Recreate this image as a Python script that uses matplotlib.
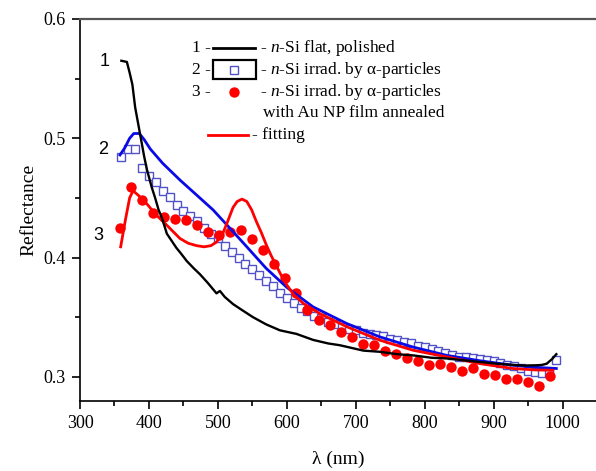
import matplotlib
matplotlib.use("Agg")
import matplotlib.pyplot as plt
from matplotlib.lines import Line2D
from matplotlib.patches import Rectangle

plt.rcParams['font.family'] = ['Liberation Serif', 'DejaVu Serif']
plt.rcParams['mathtext.fontset'] = 'custom'
plt.rcParams['mathtext.rm'] = 'Liberation Serif'
plt.rcParams['mathtext.it'] = 'Liberation Serif:italic'

# ---- Data ----
# Curve 1: n-Si flat, polished (black line)
wl_flat = [360, 368, 372, 376, 380, 387, 393, 397, 404, 409, 414, 419, 426, 433, 440,
           447, 455, 465, 474, 485, 498, 503, 510, 522, 535, 551, 570, 590, 614, 638,
           660, 677, 711, 735, 760, 783, 810, 832, 855, 880, 905, 928, 945, 962, 970,
           977, 985, 991]
r_flat = [0.565, 0.564, 0.555, 0.545, 0.526, 0.504, 0.485, 0.474, 0.459, 0.450, 0.440,
          0.433, 0.420, 0.414, 0.408, 0.403, 0.397, 0.391, 0.386, 0.379, 0.370, 0.372,
          0.367, 0.361, 0.356, 0.350, 0.344, 0.339, 0.336, 0.331, 0.328, 0.3265, 0.322,
          0.321, 0.319, 0.318, 0.316, 0.3154, 0.314, 0.3125, 0.311, 0.310, 0.3095,
          0.3097, 0.310, 0.311, 0.315, 0.319]

# Curve 2: n-Si irradiated by alpha-particles (open squares)
wl_irr = [360, 370, 380, 390, 400, 410, 420, 430, 440, 450, 460, 470, 480, 490, 500,
          510, 520, 530, 540, 550, 560, 570, 580, 590, 600, 610, 620, 630, 640, 650,
          660, 670, 680, 690, 700, 710, 720, 730, 740, 750, 760, 770, 780, 790, 800,
          810, 820, 830, 840, 850, 860, 870, 880, 890, 900, 910, 920, 930, 940, 950,
          960, 970, 980, 990]
r_irr = [0.484, 0.491, 0.491, 0.475, 0.468, 0.463, 0.456, 0.4505, 0.444, 0.439, 0.435,
         0.431, 0.425, 0.420, 0.416, 0.410, 0.405, 0.400, 0.395, 0.390, 0.385, 0.380,
         0.376, 0.370, 0.366, 0.362, 0.358, 0.355, 0.351, 0.349, 0.346, 0.344, 0.342,
         0.340, 0.339, 0.337, 0.336, 0.335, 0.334, 0.332, 0.331, 0.329, 0.328, 0.326,
         0.325, 0.323, 0.322, 0.320, 0.318, 0.317, 0.317, 0.316, 0.315, 0.314, 0.313,
         0.312, 0.310, 0.309, 0.307, 0.305, 0.304, 0.303, 0.303, 0.314]

# Fitting of curve 2 (blue line)
wl_fit2 = [358, 365, 372, 378, 386, 393, 402, 420, 445, 470, 493, 520, 542, 570, 600,
           638, 687, 735, 783, 832, 880, 928, 960, 991]
r_fit2 = [0.486, 0.492, 0.500, 0.504, 0.504, 0.499, 0.491, 0.479, 0.465, 0.452, 0.440,
          0.423, 0.409, 0.391, 0.375, 0.3587, 0.3447, 0.3335, 0.325, 0.318, 0.3135,
          0.3097, 0.308, 0.307]

# Curve 3: n-Si irradiated with Au NP film annealed (red dots)
wl_au = [358, 374, 390, 406, 422, 438, 454, 470, 486, 502, 518, 534, 550, 566, 582,
         598, 614, 630, 646, 662, 678, 694, 710, 726, 742, 758, 774, 790, 806, 822,
         838, 854, 870, 886, 902, 918, 934, 950, 966, 982]
r_au = [0.4248, 0.4588, 0.4482, 0.4375, 0.4340, 0.4321, 0.4317, 0.4276, 0.4216, 0.4188,
        0.4216, 0.4230, 0.4152, 0.4062, 0.3948, 0.3830, 0.3704, 0.3559, 0.3480, 0.3433,
        0.3377, 0.3335, 0.3279, 0.3265, 0.3217, 0.3190, 0.3154, 0.3134, 0.3103, 0.3111,
        0.3083, 0.3047, 0.3070, 0.3020, 0.3013, 0.2986, 0.2983, 0.2957, 0.2922, 0.3003]

# Fitting of curve 3 (red line)
wl_fit3 = [359, 366, 372, 377, 385, 397, 410, 421, 433, 445, 457, 469, 480, 490, 498,
           507, 514, 522, 528, 535, 542, 549, 556, 563, 570, 577, 584, 592, 600, 610,
           624, 648, 687, 735, 783, 832, 880, 928, 960, 986]
r_fit3 = [0.409, 0.432, 0.450, 0.456, 0.452, 0.445, 0.436, 0.430, 0.423, 0.416, 0.412,
          0.410, 0.409, 0.410, 0.413, 0.420, 0.430, 0.442, 0.447, 0.449, 0.447, 0.440,
          0.430, 0.421, 0.411, 0.402, 0.394, 0.385, 0.377, 0.369, 0.3615, 0.353, 0.342,
          0.3307, 0.3223, 0.3167, 0.3111, 0.307, 0.3058, 0.3055]

legend_labels = [r"- $n$-Si flat, polished",
                 r"- $n$-Si irrad. by α-particles",
                 r"- $n$-Si irrad. by α-particles",
                 "with Au NP film annealed",
                 "- fitting"]

SQ_COLOR = '#5252c8'
RED = '#ff0000'
BLUE = '#0a0ae6'

fig = plt.figure(figsize=(5.96, 4.71), dpi=100)
ax = fig.add_axes([80 / 596, (471 - 400.7) / 471, 517 / 596, 381.7 / 471])

ax.plot(wl_irr, r_irr, ls='none', marker='s', ms=6, mfc='white', mec=SQ_COLOR,
        mew=1.0, zorder=2)
ax.plot(wl_au, r_au, ls='none', marker='o', ms=7.5, mfc=RED, mec=RED, mew=0, zorder=3)
ax.plot(wl_fit2, r_fit2, color=BLUE, lw=2.0, zorder=4)
ax.plot(wl_fit3, r_fit3, color=RED, lw=2.0, zorder=5)
ax.plot(wl_flat, r_flat, color='black', lw=1.7, zorder=6)

ax.set_xlim(300, 1050)
ax.set_ylim(0.28, 0.6)
ax.set_xticks([300, 400, 500, 600, 700, 800, 900, 1000])
ax.set_xticks(range(350, 1050, 100), minor=True)
ax.set_yticks([0.3, 0.4, 0.5, 0.6])
ax.set_yticklabels(['0.3', '0.4', '0.5', '0.6'])
ax.set_yticks([0.35, 0.45, 0.55], minor=True)
ax.tick_params(which='both', direction='out', width=1.2, labelsize=13,
               top=False, right=False)
ax.tick_params(which='major', length=6, pad=4)
ax.tick_params(which='minor', length=3.5)
ax.spines['right'].set_visible(False)
ax.spines['top'].set_color('#555555')
ax.spines['top'].set_linewidth(1.6)
for s in ('left', 'bottom'):
    ax.spines[s].set_linewidth(1.2)

ax.set_xlabel("λ (nm)", fontsize=14, labelpad=14)
ax.set_ylabel("Reflectance", fontsize=14, labelpad=5)

# curve number labels
sans = ['Liberation Sans', 'DejaVu Sans']
ax.text(336, 0.5642, "1", family=sans, fontsize=13, ha='center', va='center')
ax.text(333.6, 0.4906, "2", family=sans, fontsize=13, ha='center', va='center')
ax.text(326.5, 0.4188, "3", family=sans, fontsize=13, ha='center', va='center')

# custom legend
T = ax.transAxes
fs = 12.5
ax.text(0.216, 0.923, "1 -", transform=T, fontsize=fs, va='center', ha='left')
ax.add_line(Line2D([0.258, 0.3385], [0.923, 0.923], transform=T, color='black', lw=2))
ax.text(0.348, 0.923, legend_labels[0], transform=T, fontsize=fs, va='center', ha='left')

ax.text(0.216, 0.8664, "2 -", transform=T, fontsize=fs, va='center', ha='left')
ax.add_patch(Rectangle((0.2567, 0.8428), 0.3404 - 0.2567, 0.8926 - 0.8428, transform=T,
                       fill=False, ec='black', lw=1.6))
ax.add_line(Line2D([0.2985], [0.8664], transform=T, ls='none', marker='s', ms=6,
                   mfc='white', mec=SQ_COLOR, mew=1.0))
ax.text(0.348, 0.8664, legend_labels[1], transform=T, fontsize=fs, va='center', ha='left')

ax.text(0.216, 0.8095, "3 -", transform=T, fontsize=fs, va='center', ha='left')
ax.add_line(Line2D([0.2979], [0.8095], transform=T, ls='none', marker='o', ms=7.5,
                   mfc=RED, mec=RED, mew=0))
ax.text(0.348, 0.8095, legend_labels[2], transform=T, fontsize=fs, va='center', ha='left')
ax.text(0.3534, 0.753, legend_labels[3], transform=T, fontsize=fs, va='center', ha='left')

ax.add_line(Line2D([0.247, 0.3255], [0.696, 0.696], transform=T, color=RED, lw=2))
ax.text(0.332, 0.696, legend_labels[4], transform=T, fontsize=fs, va='center', ha='left')

fig.savefig("out.png", dpi=100)
